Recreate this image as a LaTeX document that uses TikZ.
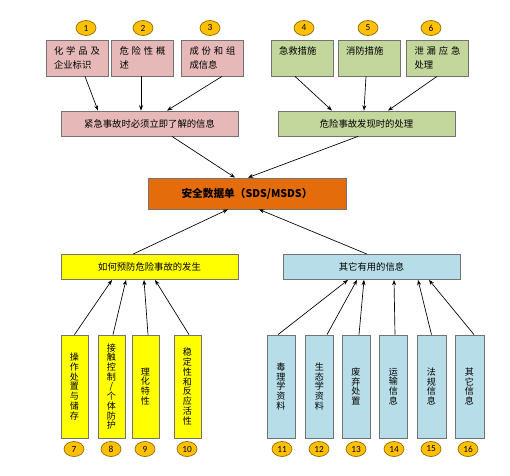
\documentclass[tikz,border=0pt]{standalone}
\usepackage{fontspec}
\setmainfont{Noto Sans CJK SC}
\newfontfamily\numfont{Carlito}
\usetikzlibrary{shapes.geometric,arrows.meta}
\newdimen\pxu \pxu=0.75pt
\definecolor{pinkbox}{HTML}{E6B9B8}
\definecolor{greenbox}{HTML}{C3D69B}
\definecolor{yellowbox}{HTML}{FFFF00}
\definecolor{bluebox}{HTML}{B7DEE8}
\definecolor{sdsorange}{HTML}{E46C0A}
\definecolor{numgold}{HTML}{FFC000}
\definecolor{numedge}{HTML}{8A6A00}
\begin{document}
\begin{tikzpicture}[x=0.75pt,y=-0.75pt,
    arr/.style={-{Stealth[length=4pt,width=3pt]},line width=0.5pt},
    box/.style={draw=black!55,line width=0.6pt,inner sep=0pt},
    top box/.style={box,minimum width=62\pxu,minimum height=36\pxu,
        text width=46\pxu,align=left,font=\fontsize{7}{11}\selectfont},
    wide box/.style={box,minimum width=177\pxu,minimum height=25\pxu,
        font=\fontsize{7}{8}\selectfont},
    tall box/.style={box,minimum width=28\pxu,minimum height=103\pxu,
        align=center,font=\fontsize{6.8}{7.3}\selectfont},
    num/.style={ellipse,draw=numedge,fill=numgold,line width=0.5pt,
        minimum width=20\pxu,minimum height=15\pxu,inner sep=0pt,
        font=\numfont\fontsize{7}{7}\selectfont}]

    \useasboundingbox (0,0) rectangle (510,475);

    % Define vertices
    \node[top box,fill=pinkbox] (t1) at (77,58) {化\hfill 学\hfill 品\hfill 及\\企业标识};
    \node[top box,fill=pinkbox] (t2) at (142.5,58) {危\hfill 险\hfill 性\hfill 概\\述};
    \node[top box,fill=pinkbox] (t3) at (212.5,58) {成\hfill 份\hfill 和\hfill 组\\成信息};
    \node[top box,fill=greenbox] (t4) at (302,58) {急救措施\\\mbox{}};
    \node[top box,fill=greenbox] (t5) at (369,58) {消防措施\\\mbox{}};
    \node[top box,fill=greenbox] (t6) at (437.5,58) {泄\hfill 漏\hfill 应\hfill 急\\处理};

    \node[num] (n1) at (86,28) {1};
    \node[num] (n2) at (143,28) {2};
    \node[num] (n3) at (210,28) {3};
    \node[num] (n4) at (304,28) {4};
    \node[num] (n5) at (368,28) {5};
    \node[num] (n6) at (431,28) {6};

    \node[wide box,fill=pinkbox] (r1) at (149.5,123.5) {紧急事故时必须立即了解的信息};
    \node[wide box,fill=greenbox] (r2) at (366.5,123.5) {危险事故发现时的处理};

    \node[box,fill=sdsorange,minimum width=198\pxu,minimum height=31\pxu,
        font=\fontsize{8}{9}\selectfont\bfseries] (sds) at (247,193.5)
        {安全数据单（SDS/MSDS）\hspace{10\pxu}};

    \node[wide box,fill=yellowbox] (r3) at (149.5,267) {如何预防危险事故的发生};
    \node[wide box,fill=bluebox] (r4) at (371.5,267) {其它有用的信息};

    \node[tall box,fill=yellowbox,minimum width=27\pxu] (b7) at (74.5,386.5) {操\\作\\处\\置\\与\\储\\存};
    \node[tall box,fill=yellowbox,minimum width=27\pxu] (b8) at (111.5,386.5) {接\\触\\控\\制\\/\\个\\体\\防\\护};
    \node[tall box,fill=yellowbox,minimum width=27\pxu] (b9) at (145.5,386.5) {理\\化\\特\\性};
    \node[tall box,fill=yellowbox,minimum width=27\pxu] (b10) at (187.5,386.5) {稳\\定\\性\\和\\反\\应\\活\\性};
    \node[tall box,fill=bluebox] (b11) at (281,386.5) {毒\\理\\学\\资\\料};
    \node[tall box,fill=bluebox] (b12) at (319.5,386.5) {生\\态\\学\\资\\料};
    \node[tall box,fill=bluebox] (b13) at (356,386.5) {废\\弃\\处\\置};
    \node[tall box,fill=bluebox] (b14) at (393.5,386.5) {运\\输\\信\\息};
    \node[tall box,fill=bluebox,minimum width=29\pxu] (b15) at (431.5,386.5) {法\\规\\信\\息};
    \node[tall box,fill=bluebox,minimum width=29\pxu] (b16) at (469.5,386.5) {其\\它\\信\\息};

    \node[num] (n7) at (74,449) {7};
    \node[num] (n8) at (111,449) {8};
    \node[num] (n9) at (145,449) {9};
    \node[num] (n10) at (187,449) {10};
    \node[num] (n11) at (282,449) {11};
    \node[num] (n12) at (319,449) {12};
    \node[num] (n13) at (356,449) {13};
    \node[num] (n14) at (394,449) {14};
    \node[num] (n15) at (431,449) {15};
    \node[num] (n16) at (468,449) {16};

    % Draw edges
    \path[arr]
        ([xshift=8\pxu]t1.south) edge ([xshift=-51.5\pxu]r1.north)
        ([xshift=-1.5\pxu]t2.south) edge ([xshift=-8.5\pxu]r1.north)
        ([xshift=9.5\pxu]t3.south) edge ([xshift=17.5\pxu]r1.north)
        ([xshift=-7\pxu]t4.south) edge ([xshift=-34.5\pxu]r2.north)
        ([xshift=-3\pxu]t5.south) edge ([xshift=-2.5\pxu]r2.north)
        ([xshift=-0.5\pxu]t6.south) edge ([xshift=21.5\pxu]r2.north)
        ([xshift=22.5\pxu]r1.south) edge ([xshift=-12\pxu]sds.north)
        ([xshift=-8.5\pxu]r2.south) edge ([xshift=1\pxu]sds.north)
        ([xshift=-16.5\pxu]r3.north) edge ([xshift=-19\pxu]sds.south)
        ([xshift=-4.5\pxu]r4.north) edge ([xshift=12\pxu]sds.south);

    \path[arr]
        (b7.north) edge ([xshift=-37.5\pxu]r3.south)
        ([xshift=1.5\pxu]b8.north) edge ([xshift=-23.5\pxu]r3.south)
        ([xshift=2.5\pxu]b9.north) edge ([xshift=-5.5\pxu]r3.south)
        ([xshift=1.5\pxu]b10.north) edge ([xshift=5.5\pxu]r3.south)
        ([xshift=-3\pxu]b11.north) edge ([xshift=-23.5\pxu]r4.south)
        ([xshift=7.5\pxu]b12.north) edge ([xshift=-14.5\pxu]r4.south)
        ([xshift=3\pxu]b13.north) edge ([xshift=-7.5\pxu]r4.south)
        ([xshift=1.5\pxu]b14.north) edge ([xshift=22.5\pxu]r4.south)
        (b15.north) edge ([xshift=46.5\pxu]r4.south)
        ([xshift=4.5\pxu]b16.north) edge ([xshift=57.5\pxu]r4.south);

\end{tikzpicture}
\end{document}
